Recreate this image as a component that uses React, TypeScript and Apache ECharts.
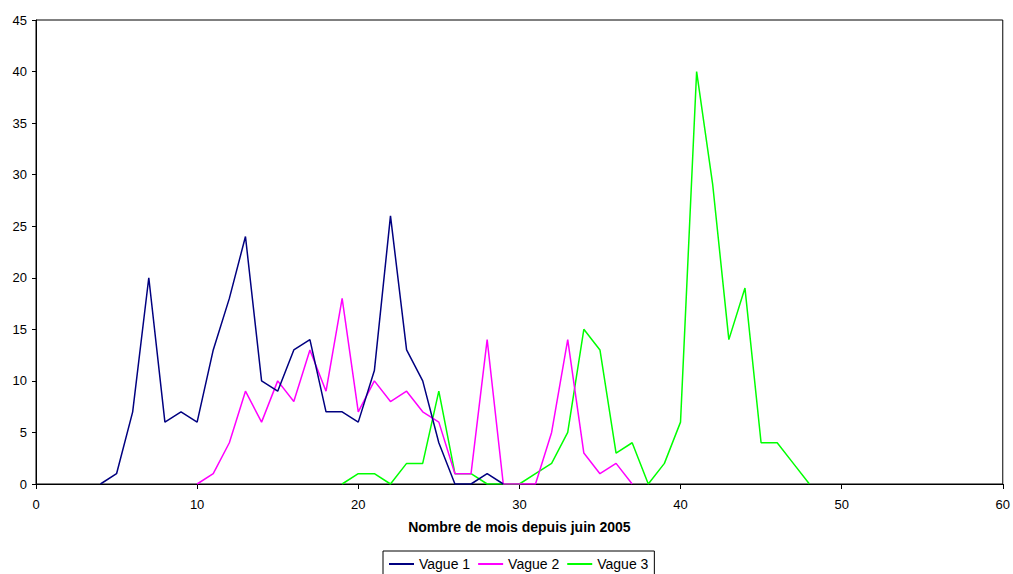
import React, { useEffect, useRef } from "react";
import * as echarts from "echarts";

const seriesNames = ["Vague 1", "Vague 2", "Vague 3"];
const seriesColors = ["#000080", "#FF00FF", "#00FF00"];
const vague1Start = 4;
const vague1 = [0, 1, 7, 20, 6, 7, 6, 13, 18, 24, 10, 9, 13, 14, 7, 7, 6, 11, 26, 13, 10, 4, 0, 0, 1, 0];
const vague2Start = 10;
const vague2 = [0, 1, 4, 9, 6, 10, 8, 13, 9, 18, 7, 10, 8, 9, 7, 6, 1, 1, 14, 0, 0, 0, 5, 14, 3, 1, 2, 0];
const vague3Start = 19;
const vague3 = [0, 1, 1, 0, 2, 2, 9, 1, 1, 0, 0, 0, 1, 2, 5, 15, 13, 3, 4, 0, 2, 6, 40, 29, 14, 19, 4, 4, 2, 0];
const xTitle = "Nombre de mois depuis juin 2005";

const toPairs = (start: number, vals: number[]) => vals.map((v, i) => [start + i, v]);

export default function App() {
  const ref = useRef<HTMLDivElement>(null);
  useEffect(() => {
    if (!ref.current) return;
    const chart = echarts.init(ref.current, null, { renderer: "svg" });
    const font = "Liberation Sans, Arial, sans-serif";
    const datasets = [
      toPairs(vague1Start, vague1),
      toPairs(vague2Start, vague2),
      toPairs(vague3Start, vague3),
    ];
    chart.setOption({
      animation: false,
      backgroundColor: "#fff",
      textStyle: { fontFamily: font },
      grid: {
        left: 36,
        top: 20,
        right: 10,
        bottom: 90,
        show: true,
        borderColor: "#000",
        borderWidth: 1,
        containLabel: false,
      },
      legend: {
        left: 383,
        top: 551,
        orient: "horizontal",
        data: seriesNames,
        icon: "rect",
        itemWidth: 25,
        itemHeight: 2,
        itemGap: 8,
        padding: [6, 6, 6, 6],
        borderColor: "#000",
        borderWidth: 1,
        borderRadius: 0,
        textStyle: { fontFamily: font, fontSize: 14, color: "#000" },
      },
      xAxis: {
        type: "value",
        min: 0,
        max: 60,
        interval: 10,
        name: xTitle,
        nameLocation: "middle",
        nameGap: 36,
        nameTextStyle: { fontFamily: font, fontSize: 14, fontWeight: "bold", color: "#000" },
        axisLine: { show: true, onZero: false, lineStyle: { color: "#000", width: 1 } },
        axisTick: { show: true, inside: false, length: 5, lineStyle: { color: "#000" } },
        axisLabel: { fontFamily: font, fontSize: 13, color: "#000", margin: 14 },
        splitLine: { show: false },
      },
      yAxis: {
        type: "value",
        min: 0,
        max: 45,
        interval: 5,
        axisLine: { show: true, onZero: false, lineStyle: { color: "#000", width: 1 } },
        axisTick: { show: true, inside: false, length: 4, lineStyle: { color: "#000" } },
        axisLabel: { fontFamily: font, fontSize: 13, color: "#000", margin: 9 },
        splitLine: { show: false },
      },
      series: seriesNames.map((name, i) => ({
        name,
        type: "line",
        data: datasets[i],
        symbol: "none",
        showSymbol: false,
        lineStyle: { color: seriesColors[i], width: 1.5 },
        itemStyle: { color: seriesColors[i] },
        z: 3 - i,
      })),
    });
    return () => chart.dispose();
  }, []);
  return (
    <div
      ref={ref}
      style={{ position: "absolute", left: 0, top: 0, width: 1013, height: 574 }}
    />
  );
}
